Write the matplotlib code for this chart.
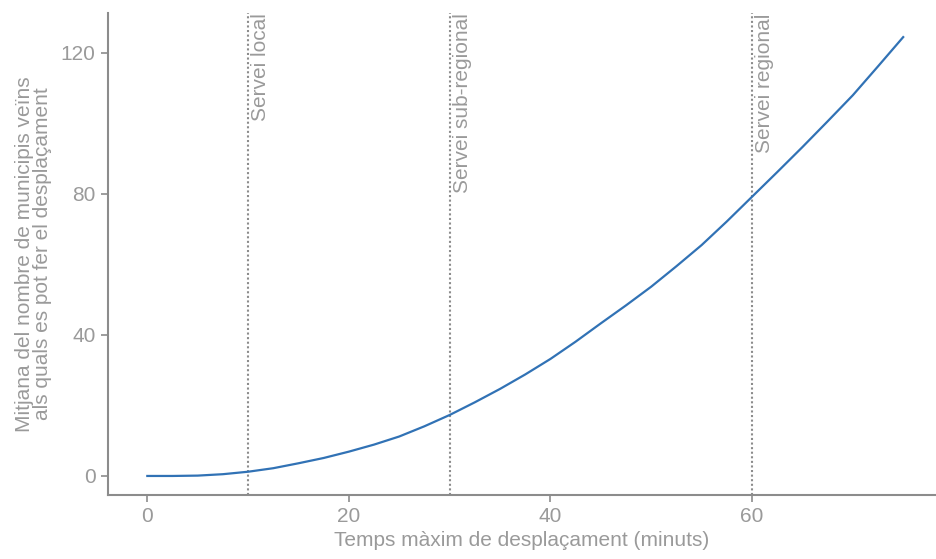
import matplotlib.pyplot as plt
import numpy as np

plt.rcParams['font.family'] = ['Liberation Sans', 'DejaVu Sans']

# travel time (minutes) and mean number of reachable neighbouring municipalities
minutes = [0, 2.5, 5, 7.5, 10, 12.5, 15, 17.5, 20, 22.5, 25, 27.5, 30, 32.5, 35, 37.5,
           40, 42.5, 45, 47.5, 50, 52.5, 55, 57.5, 60, 62.5, 65, 67.5, 70, 72.5, 75]
mean_munis = [0, 0, 0.1, 0.5, 1.2, 2.2, 3.6, 5.1, 6.9, 8.9, 11.2, 14.1, 17.3, 20.9, 24.7, 28.8,
              33.2, 38.1, 43.3, 48.4, 53.7, 59.5, 65.5, 72.2, 79.2, 86.2, 93.3, 100.6, 108.0, 116.2, 124.5]

service_times = [10, 30, 60]
service_labels = ["Servei local", "Servei sub-regional", "Servei regional"]

grey = "#8c8c8c"
text_grey = "#9a9a9a"
fs = 15

fig = plt.figure(figsize=(9.36, 5.59), dpi=100)
ax = fig.add_axes([0.1154, 0.1145, 0.884, 0.862])

ax.plot(minutes, mean_munis, color="#3172b5", lw=1.6, zorder=3)

for t, lab in zip(service_times, service_labels):
    ax.axvline(t, color=grey, lw=1.5, ls=(0, (1, 1.2)), zorder=2)
    ax.text(t + 0.3, 131.3, lab, rotation=90, ha="left", va="top",
            fontsize=fs, color=text_grey)

ax.set_xlim(-3.9, 78.2)
ax.set_ylim(-5.4, 131.3)
ax.set_xticks([0, 20, 40, 60])
ax.set_yticks([0, 40, 80, 120])

for side in ["top", "right"]:
    ax.spines[side].set_visible(False)
for side in ["left", "bottom"]:
    ax.spines[side].set_color(grey)
    ax.spines[side].set_linewidth(1.5)

ax.tick_params(colors=grey, labelcolor=text_grey, labelsize=fs, length=5, width=1.2, pad=4)

ax.set_xlabel("Temps màxim de desplaçament (minuts)", fontsize=fs, color=text_grey, labelpad=3)
ax.set_ylabel("Mitjana del nombre de municipis veïns\nals quals es pot fer el desplaçament",
              fontsize=fs, color=text_grey, labelpad=6, linespacing=0.95)

fig.savefig("out.png", dpi=100)
